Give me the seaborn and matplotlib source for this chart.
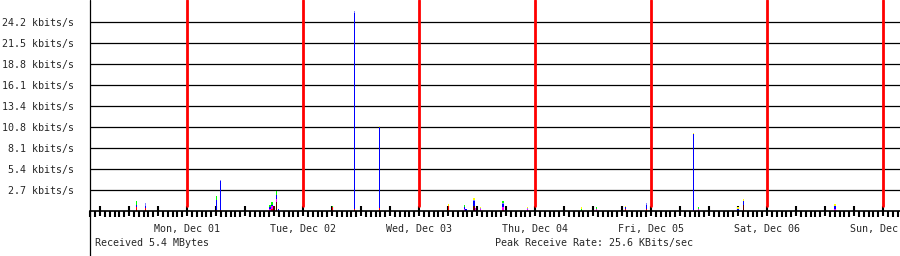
import numpy as np
import pandas as pd
import seaborn as sns
import matplotlib
matplotlib.use("Agg")
import matplotlib.pyplot as plt
from matplotlib.lines import Line2D

# ---------------- data (hours relative to Mon, Dec 01 00:00) ----------------
spike_hours = [-10.5, -8.6, 6.1, 6.9, 17.2, 17.6, 17.9, 18.1, 18.5, 19.0,
               30.1, 34.6, 39.8, 54.1, 57.4, 57.7, 59.4, 59.7, 60.7, 65.4,
               70.4, 81.6, 84.7, 90.7, 95.0, 104.8, 105.8, 114.0, 115.1, 134.1]
# kbits/s per stacked component (bottom -> top)
darkred   = [0, 0, 0, 0, 0, 0, 0.64, 0.64, 1.2, 0,
             0, 0, 0, 0, 0, 0, 0.6, 0, 0, 0,
             0, 0, 0, 0, 0, 0, 0, 0, 0.8, 0]
red       = [0.45, 0.35, 0.15, 0.15, 0, 0.3, 0, 0, 0, 0,
             0.5, 0.3, 0.4, 0.68, 0, 0, 0, 0, 0, 0.15,
             0, 0, 0, 0.2, 0.3, 0, 0, 0, 0, 0]
magenta   = [0, 0, 0, 0, 0.2, 0.3, 0, 0, 0.3, 0,
             0, 0, 0, 0, 0.3, 0, 0, 0.4, 0.3, 0.3,
             0.25, 0, 0.25, 0, 0, 0.1, 0.25, 0, 0, 0.2]
blue      = [0.35, 0.3, 1.3, 3.65, 0.3, 0.2, 0, 0, 0.5, 0.25,
             0, 25.1, 10.35, 0, 0.15, 0.2, 0.7, 0, 0, 0.45,
             0, 0, 0, 0.3, 0.45, 9.75, 0, 0.3, 0.5, 0.4]
lightblue = [0, 0.35, 0, 0.17, 0, 0, 0, 0, 0, 0,
             0, 0.2, 0, 0, 0, 0, 0.15, 0, 0.1, 0.1,
             0.15, 0, 0, 0, 0.3, 0, 0, 0, 0, 0]
green     = [0.45, 0, 0.5, 0, 0.3, 0.35, 0, 0, 0.5, 0,
             0.2, 0, 0, 0, 0.3, 0, 0, 0, 0, 0.28,
             0, 0.3, 0.25, 0, 0, 0, 0.25, 0, 0, 0]
yellow    = [0, 0, 0, 0, 0, 0, 0, 0, 0, 0,
             0, 0, 0.15, 0.25, 0, 0, 0.25, 0, 0.1, 0,
             0.1, 0.2, 0, 0.18, 0, 0.15, 0, 0.2, 0.25, 0.3]

y_ticks = [2.6875 * k for k in range(1, 10)]
y_labels = ["2.7 kbits/s", "5.4 kbits/s", "8.1 kbits/s", "10.8 kbits/s",
            "13.4 kbits/s", "16.1 kbits/s", "18.8 kbits/s", "21.5 kbits/s",
            "24.2 kbits/s"]
day_hours = [0, 24, 48, 72, 96, 120, 144]
day_labels = ["Mon, Dec 01", "Tue, Dec 02", "Wed, Dec 03", "Thu, Dec 04",
              "Fri, Dec 05", "Sat, Dec 06", "Sun, Dec 07"]
footer_left = "Received 5.4 MBytes"
footer_right = "Peak Receive Rate: 25.6 KBits/sec"

# ---------------- styling ----------------
sns.set_style("white")
plt.rcParams["font.family"] = ["DejaVu Sans Mono"]
plt.rcParams["font.size"] = 7.2

W, H, DPI = 900, 256, 100
fig = plt.figure(figsize=(W / DPI, H / DPI), dpi=DPI)
ax_left, ax_right, ax_base = 90, 900, 211
ax = fig.add_axes([ax_left / W, (H - ax_base) / H, (ax_right - ax_left) / W, ax_base / H])

px_per_h = 116 / 24.0
x0 = -(187 - ax_left) / px_per_h
x1 = x0 + (ax_right - ax_left) / px_per_h
ax.set_xlim(x0, x1)
ax.set_ylim(0, ax_base * 2.6875 / 21)

df = pd.DataFrame({"hour": spike_hours, "darkred": darkred, "red": red,
                   "magenta": magenta, "blue": blue, "lightblue": lightblue,
                   "green": green, "yellow": yellow})
layers = [("darkred", "#5a0000"), ("red", "#ff0000"), ("magenta", "#ff00ff"),
          ("blue", "#0000ff"), ("lightblue", "#8080ff"), ("green", "#00ff00"),
          ("yellow", "#ffff00")]
bottom = np.zeros(len(df))
bw = 1.3 / px_per_h
for name, col in layers:
    vals = df[name].to_numpy(dtype=float)
    ax.bar(df["hour"], vals, bottom=bottom, width=bw, color=col,
           linewidth=0, zorder=3, antialiased=False)
    bottom += vals

# horizontal grid
ax.set_yticks(y_ticks)
ax.set_yticklabels(y_labels)
ax.yaxis.grid(True, color="black", linewidth=0.9)
ax.xaxis.grid(False)
ax.set_axisbelow(True)
ax.tick_params(axis="y", left=False, length=0, pad=11.5, labelsize=7.2)

# day lines (red)
for d in day_hours:
    ax.axvline(d, ymin=5.5 / ax_base, ymax=1, color="#ff0000", linewidth=2.0, zorder=2.5)

# x ticks
major = list(range(-18, 148, 6))
ax.set_xticks(major)
ax.set_xticklabels([day_labels[day_hours.index(h)] if h in day_hours else "" for h in major])
ax.set_xticks(list(range(-20, 148)), minor=True)
ax.tick_params(axis="x", which="both", bottom=True)
ax.tick_params(axis="x", which="major", direction="inout", length=7.9, width=1.5,
               color="black", pad=5.4, labelsize=7.2)
ax.tick_params(axis="x", which="minor", direction="out", length=4.3, width=1.5,
               color="black")
for lab in ax.get_xticklabels():
    lab.set_clip_on(False)

for s in ["top", "right", "left"]:
    ax.spines[s].set_visible(False)
ax.spines["bottom"].set_color("black")
ax.spines["bottom"].set_linewidth(1.2)
ax.spines["bottom"].set_zorder(4)

# full-height vertical axis line
fig.add_artist(Line2D([ax_left / W, ax_left / W], [0, 1], color="black",
                      linewidth=0.9, transform=fig.transFigure))

fig.text(95 / W, 1 - 243 / H, footer_left, va="center", ha="left", fontsize=7.2)
fig.text(495 / W, 1 - 243 / H, footer_right, va="center", ha="left", fontsize=7.2)

fig.savefig("out.png", dpi=DPI)
